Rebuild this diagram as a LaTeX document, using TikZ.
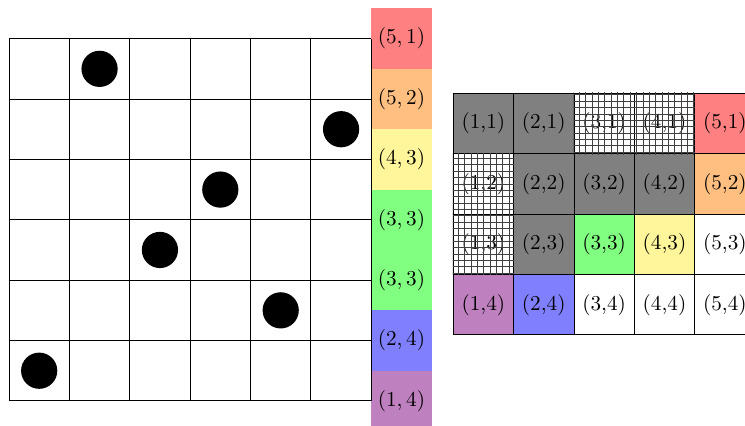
\documentclass[tikz,border=0pt]{standalone}
\usepackage{tikz}
\usetikzlibrary{patterns}
\definecolor{paleYellow}{HTML}{FFF59A}

\begin{document}
\begin{tikzpicture}[
    stripBlock/.style={
        rectangle,
        fill=#1,
        minimum width=1cm,
        minimum height=1cm,
        inner sep=0pt
    },
    stripLabel/.style={
        inner sep=0pt
    },
    queenDot/.style={
        fill=black
    },
    cellBox/.style={
        rectangle,
        draw=black,
        fill=#1,
        minimum size=1cm,
        inner sep=0pt,
        anchor=north west
    }
]

% Frame of the picture
\clip (-0.149,-0.414) rectangle (12.19,6.64);

% Coloured strip beside the board
\node[stripBlock=red!50] (s51) at (6.5,6) {$(5,1)$};
\node[stripBlock=orange!50] (s52) at (6.5,5) {$(5,2)$};
\node[stripBlock=paleYellow] (s43) at (6.5,4) {$(4,3)$};
\node[stripBlock=green!50, minimum height=2cm] (s33) at (6.5,2.5) {};
\node[stripLabel] (s33a) at (6.5,3) {$(3,3)$};
\node[stripLabel] (s33b) at (6.5,2) {$(3,3)$};
\node[stripBlock=blue!50] (s24) at (6.5,1) {$(2,4)$};
\node[stripBlock=violet!50] (s14) at (6.5,0) {$(1,4)$};

% Board with queens
\draw (0,0) grid (6,6);
\foreach \x/\y in {1.5/5.5, 5.5/4.5, 3.5/3.5, 2.5/2.5, 4.5/1.5, 0.5/0.5}
    \fill[queenDot] (\x,\y) circle (0.3);

% Table of cells
\foreach \i/\j/\c in {1/1/gray, 2/1/gray, 3/1/white, 4/1/white, 5/1/red!50,
                      1/2/white, 2/2/gray, 3/2/gray, 4/2/gray, 5/2/orange!50,
                      1/3/white, 2/3/gray, 3/3/green!50, 4/3/paleYellow, 5/3/white,
                      1/4/violet!50, 2/4/blue!50, 3/4/white, 4/4/white, 5/4/white}
    \node[cellBox=\c] (r\i\j) at ({7.35+\i-1},{5.1-\j+1}) {(\i,\j)};

% Hatched cells
\foreach \n in {r31, r41, r12, r13}
    \fill[pattern=grid, pattern color=black!75] (\n.north west) rectangle (\n.south east);

\end{tikzpicture}
\end{document}
